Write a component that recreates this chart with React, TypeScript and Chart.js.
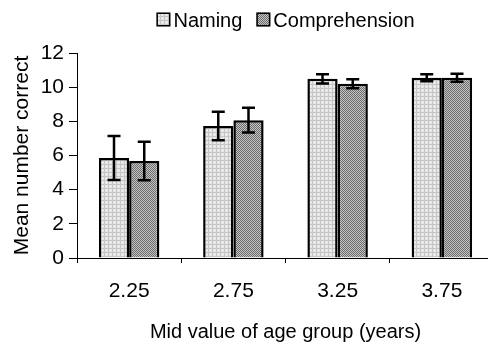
import React, { useEffect, useRef } from 'react';
import { Chart, registerables } from 'chart.js';
Chart.register(...registerables);

const categories = ['2.25', '2.75', '3.25', '3.75'];
const seriesNames = ['Naming', 'Comprehension'];
const namingMeans = [5.85, 7.73, 10.49, 10.55];
const namingErrors = [1.29, 0.83, 0.27, 0.2];
const compMeans = [5.68, 8.07, 10.2, 10.55];
const compErrors = [1.13, 0.72, 0.26, 0.24];
const yTicks = [0, 2, 4, 6, 8, 10, 12];
const xTitle = 'Mid value of age group (years)';
const yTitle = 'Mean number correct';

const FAMILY = '"Liberation Sans", Arial, sans-serif';

function makePattern(kind: 'light' | 'dark'): CanvasPattern | string {
  const c = document.createElement('canvas');
  c.width = 4;
  c.height = 4;
  const g = c.getContext('2d');
  if (!g) return kind === 'light' ? '#dcdcdc' : '#999';
  if (kind === 'light') {
    g.fillStyle = '#e6e6e6';
    g.fillRect(0, 0, 4, 4);
    g.fillStyle = '#c6c6c6';
    g.fillRect(0, 0, 4, 1);
    g.fillRect(0, 0, 1, 4);
    g.fillStyle = '#f6f6f6';
    g.fillRect(2, 2, 1, 1);
  } else {
    g.fillStyle = '#c4c4c4';
    g.fillRect(0, 0, 4, 4);
    g.fillStyle = '#6c6c6c';
    for (let x = 0; x < 4; x++)
      for (let y = 0; y < 4; y++) if ((x + y) % 2 === 0) g.fillRect(x, y, 1, 1);
  }
  const p = g.createPattern(c, 'repeat');
  return p || (kind === 'light' ? '#dcdcdc' : '#999');
}

export default function App() {
  const ref = useRef<HTMLCanvasElement | null>(null);
  useEffect(() => {
    if (!ref.current) return;
    const lightPat = makePattern('light');
    const darkPat = makePattern('dark');
    const errors = [namingErrors, compErrors];
    const fills = [lightPat, darkPat];

    const errorBars = {
      id: 'errorBars',
      afterDatasetsDraw(chart: any) {
        const ctx = chart.ctx;
        const ys = chart.scales.y;
        ctx.save();
        ctx.strokeStyle = '#000';
        ctx.lineWidth = 2.5;
        chart.data.datasets.forEach((ds: any, di: number) => {
          const meta = chart.getDatasetMeta(di);
          meta.data.forEach((bar: any, i: number) => {
            const v = ds.data[i];
            const e = errors[di][i];
            const x = bar.x;
            const yt = ys.getPixelForValue(v + e);
            const yb = ys.getPixelForValue(v - e);
            ctx.beginPath();
            ctx.moveTo(x, yt);
            ctx.lineTo(x, yb);
            ctx.moveTo(x - 6.5, yt);
            ctx.lineTo(x + 6.5, yt);
            ctx.moveTo(x - 6.5, yb);
            ctx.lineTo(x + 6.5, yb);
            ctx.stroke();
          });
        });
        ctx.restore();
      },
    };

    const legendPlugin = {
      id: 'customLegend',
      afterDraw(chart: any) {
        const ctx = chart.ctx;
        const area = chart.chartArea;
        ctx.save();
        ctx.font = `20px ${FAMILY}`;
        const box = 14;
        const gap = 3;
        const spacing = 14;
        const widths = seriesNames.map((n) => ctx.measureText(n).width);
        let total = 0;
        widths.forEach((w, i) => {
          total += box + gap + w + (i < widths.length - 1 ? spacing : 0);
        });
        let x = (area.left + area.right) / 2 - total / 2;
        const boxTop = 12.5;
        const baseline = 26.5;
        seriesNames.forEach((n, i) => {
          ctx.fillStyle = fills[i];
          ctx.fillRect(x, boxTop, box, box);
          ctx.strokeStyle = '#000';
          ctx.lineWidth = 1.5;
          ctx.strokeRect(x + 0.75, boxTop + 0.75, box - 1.5, box - 1.5);
          ctx.fillStyle = '#000';
          ctx.textBaseline = 'alphabetic';
          ctx.textAlign = 'left';
          ctx.fillText(n, x + box + gap, baseline);
          x += box + gap + widths[i] + spacing;
        });
        ctx.restore();
      },
    };

    const chart = new Chart(ref.current, {
      type: 'bar',
      data: {
        labels: categories,
        datasets: [
          {
            label: seriesNames[0],
            data: namingMeans,
            backgroundColor: lightPat as any,
            borderColor: '#000',
            borderWidth: 2.5,
            categoryPercentage: 0.58,
            barPercentage: 1,
          },
          {
            label: seriesNames[1],
            data: compMeans,
            backgroundColor: darkPat as any,
            borderColor: '#000',
            borderWidth: 2.5,
            categoryPercentage: 0.58,
            barPercentage: 1,
          },
        ],
      },
      options: {
        responsive: false,
        animation: false,
        events: [],
        layout: { padding: { top: 53, left: 0, right: 2, bottom: 0 } },
        plugins: {
          legend: { display: false },
          tooltip: { enabled: false },
        },
        scales: {
          x: {
            offset: true,
            ticks: { color: '#000', font: { family: FAMILY, size: 21 }, padding: 16 },
            grid: { drawOnChartArea: false, offset: true, tickLength: 5, color: '#000' },
            border: { color: '#000' },
            title: {
              display: true,
              text: xTitle,
              color: '#000',
              font: { family: FAMILY, size: 20, lineHeight: 1.1 },
              padding: { top: 0, bottom: 0 },
            },
            afterFit: (s: any) => {
              s.height = 85;
            },
          },
          y: {
            min: 0,
            max: 12,
            afterBuildTicks: (s: any) => {
              s.ticks = yTicks.map((v) => ({ value: v }));
            },
            ticks: { color: '#000', font: { family: FAMILY, size: 21 }, padding: 5 },
            grid: { drawOnChartArea: false, tickLength: 8, color: '#000' },
            border: { color: '#000' },
            title: {
              display: true,
              text: yTitle,
              color: '#000',
              font: { family: FAMILY, size: 21 },
              padding: { top: 10, bottom: 0 },
            },
            afterFit: (s: any) => {
              s.width = 77;
            },
          },
        },
      },
      plugins: [errorBars, legendPlugin],
    });
    return () => chart.destroy();
  }, []);

  return (
    <div style={{ position: 'fixed', left: 0, top: 0, width: 488, height: 343, overflow: 'hidden', background: '#fff' }}>
      <canvas ref={ref} width={496} height={343} style={{ display: 'block' }} />
    </div>
  );
}
